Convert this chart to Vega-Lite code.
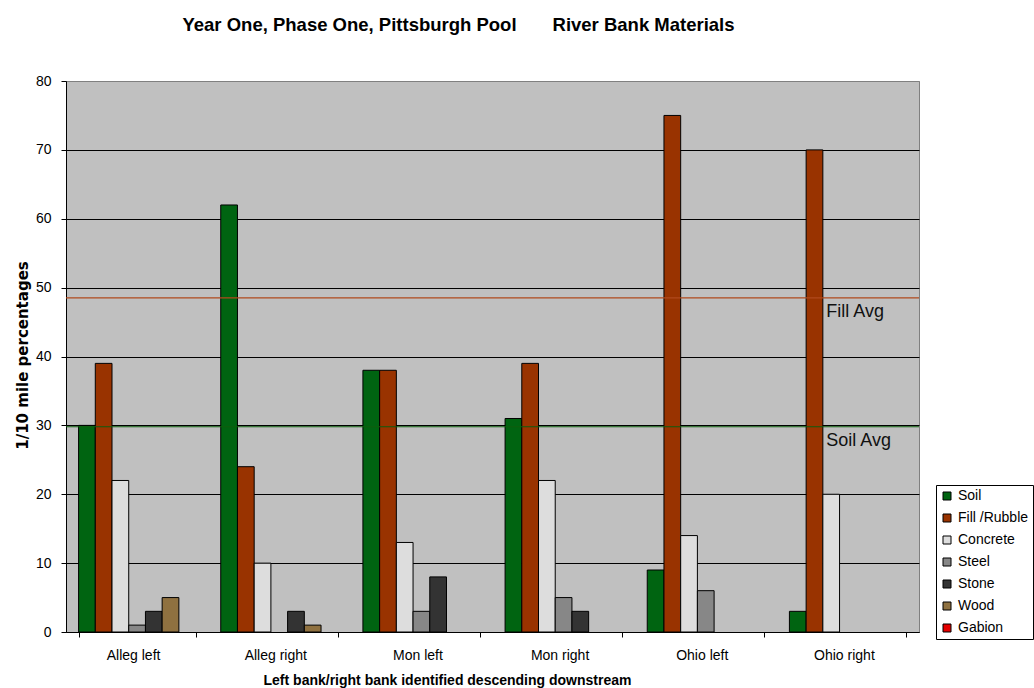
{
  "$schema": "https://vega.github.io/schema/vega-lite/v6.json",
  "width": 853,
  "height": 551,
  "autosize": {"type": "none"},
  "padding": {"left": 66, "top": 81, "right": 115, "bottom": 56},
  "background": "white",
  "config": {
    "font": "Liberation Sans",
    "view": {"fill": "#C0C0C0", "stroke": "#808080", "strokeWidth": 1}
  },
  "title": {
    "text": "Year One, Phase One, Pittsburgh Pool\u00a0\u00a0\u00a0\u00a0\u00a0\u00a0\u00a0River Bank Materials",
    "font": "Liberation Sans",
    "fontSize": 18.5,
    "fontWeight": "bold",
    "color": "black",
    "anchor": "middle",
    "dx": -34,
    "offset": 40
  },
  "datasets": {
    "banks": [
      {"bank": "Alleg left", "material": "Soil", "percent": 30},
      {"bank": "Alleg left", "material": "Fill /Rubble", "percent": 39},
      {"bank": "Alleg left", "material": "Concrete", "percent": 22},
      {"bank": "Alleg left", "material": "Steel", "percent": 1},
      {"bank": "Alleg left", "material": "Stone", "percent": 3},
      {"bank": "Alleg left", "material": "Wood", "percent": 5},
      {"bank": "Alleg left", "material": "Gabion", "percent": 0},
      {"bank": "Alleg right", "material": "Soil", "percent": 62},
      {"bank": "Alleg right", "material": "Fill /Rubble", "percent": 24},
      {"bank": "Alleg right", "material": "Concrete", "percent": 10},
      {"bank": "Alleg right", "material": "Steel", "percent": 0},
      {"bank": "Alleg right", "material": "Stone", "percent": 3},
      {"bank": "Alleg right", "material": "Wood", "percent": 1},
      {"bank": "Alleg right", "material": "Gabion", "percent": 0},
      {"bank": "Mon left", "material": "Soil", "percent": 38},
      {"bank": "Mon left", "material": "Fill /Rubble", "percent": 38},
      {"bank": "Mon left", "material": "Concrete", "percent": 13},
      {"bank": "Mon left", "material": "Steel", "percent": 3},
      {"bank": "Mon left", "material": "Stone", "percent": 8},
      {"bank": "Mon left", "material": "Wood", "percent": 0},
      {"bank": "Mon left", "material": "Gabion", "percent": 0},
      {"bank": "Mon right", "material": "Soil", "percent": 31},
      {"bank": "Mon right", "material": "Fill /Rubble", "percent": 39},
      {"bank": "Mon right", "material": "Concrete", "percent": 22},
      {"bank": "Mon right", "material": "Steel", "percent": 5},
      {"bank": "Mon right", "material": "Stone", "percent": 3},
      {"bank": "Mon right", "material": "Wood", "percent": 0},
      {"bank": "Mon right", "material": "Gabion", "percent": 0},
      {"bank": "Ohio left", "material": "Soil", "percent": 9},
      {"bank": "Ohio left", "material": "Fill /Rubble", "percent": 75},
      {"bank": "Ohio left", "material": "Concrete", "percent": 14},
      {"bank": "Ohio left", "material": "Steel", "percent": 6},
      {"bank": "Ohio left", "material": "Stone", "percent": 0},
      {"bank": "Ohio left", "material": "Wood", "percent": 0},
      {"bank": "Ohio left", "material": "Gabion", "percent": 0},
      {"bank": "Ohio right", "material": "Soil", "percent": 3},
      {"bank": "Ohio right", "material": "Fill /Rubble", "percent": 70},
      {"bank": "Ohio right", "material": "Concrete", "percent": 20},
      {"bank": "Ohio right", "material": "Steel", "percent": 0},
      {"bank": "Ohio right", "material": "Stone", "percent": 0},
      {"bank": "Ohio right", "material": "Wood", "percent": 0},
      {"bank": "Ohio right", "material": "Gabion", "percent": 0}
    ],
    "averages": [
      {"label": "Fill Avg", "percent": 48.5},
      {"label": "Soil Avg", "percent": 29.8}
    ]
  },
  "layer": [
    {
      "data": {"name": "banks"},
      "mark": {"type": "bar", "stroke": "black"},
      "encoding": {
        "x": {
          "field": "bank",
          "type": "nominal",
          "sort": null,
          "scale": {"paddingInner": 0.177, "paddingOuter": 0.0885},
          "axis": {
            "labelAngle": 0,
            "labelFontSize": 14,
            "labelColor": "black",
            "labelPadding": 11,
            "labelOffset": -4,
            "tickBand": "extent",
            "tickSize": 5,
            "tickColor": "black",
            "domainColor": "black",
            "title": "Left bank/right bank identified descending downstream",
            "titleFontSize": 14,
            "titleFontWeight": "bold",
            "titleColor": "black",
            "titleX": 381,
            "titleY": 48,
            "titleAlign": "center",
            "titleBaseline": "middle"
          }
        },
        "xOffset": {
          "field": "material",
          "type": "nominal",
          "sort": ["Soil", "Fill /Rubble", "Concrete", "Steel", "Stone", "Wood", "Gabion"],
          "scale": {"paddingInner": 0, "paddingOuter": 0}
        },
        "y": {
          "field": "percent",
          "type": "quantitative",
          "scale": {"domain": [0, 80], "nice": false},
          "axis": {
            "values": [0, 10, 20, 30, 40, 50, 60, 70, 80],
            "grid": true,
            "gridColor": {"condition": {"test": "datum.value == 80", "value": "#808080"}, "value": "black"},
            "gridWidth": 1,
            "gridOpacity": 1,
            "tickSize": 5,
            "tickColor": "black",
            "domainColor": "black",
            "labelFontSize": 14,
            "labelColor": "black",
            "labelPadding": 10,
            "title": "1/10 mile percentages",
            "titleFont": "DejaVu Sans",
            "titleFontSize": 15,
            "titleFontWeight": "bold",
            "titleColor": "black",
            "titleX": -44,
            "titleY": 274,
            "titleAlign": "center",
            "titleBaseline": "middle"
          }
        },
        "strokeWidth": {
          "condition": {"test": "datum.percent == 0", "value": 0},
          "value": 1
        },
        "fill": {
          "field": "material",
          "type": "nominal",
          "scale": {
            "domain": ["Soil", "Fill /Rubble", "Concrete", "Steel", "Stone", "Wood", "Gabion"],
            "range": ["#006411", "#993300", "#DDDDDD", "#878787", "#333333", "#8F7140", "#E50000"]
          },
          "legend": {
            "title": null,
            "orient": "none",
            "legendX": 870,
            "legendY": 404,
            "padding": 4,
            "strokeColor": "black",
            "fillColor": "white",
            "symbolType": "square",
            "symbolSize": 64,
            "symbolStrokeColor": "black",
            "symbolStrokeWidth": 1,
            "labelFontSize": 14,
            "labelColor": "black",
            "labelOffset": 4,
            "rowPadding": 8
          }
        }
      }
    },
    {
      "data": {"name": "averages"},
      "mark": {"type": "rule", "strokeWidth": 1.2},
      "encoding": {
        "y": {"field": "percent", "type": "quantitative"},
        "stroke": {
          "field": "label",
          "type": "nominal",
          "scale": {"domain": ["Fill Avg", "Soil Avg"], "range": ["#B04A1C", "#0E5E0E"]},
          "legend": null
        }
      }
    },
    {
      "data": {"name": "averages"},
      "mark": {"type": "text", "align": "left", "baseline": "middle", "dx": -5, "dy": 14, "fontSize": 18, "font": "Liberation Sans", "color": "#111111"},
      "encoding": {
        "x": {"datum": "Ohio right"},
        "xOffset": {"datum": "Concrete"},
        "y": {"field": "percent", "type": "quantitative"},
        "text": {"field": "label"}
      }
    }
  ]
}
